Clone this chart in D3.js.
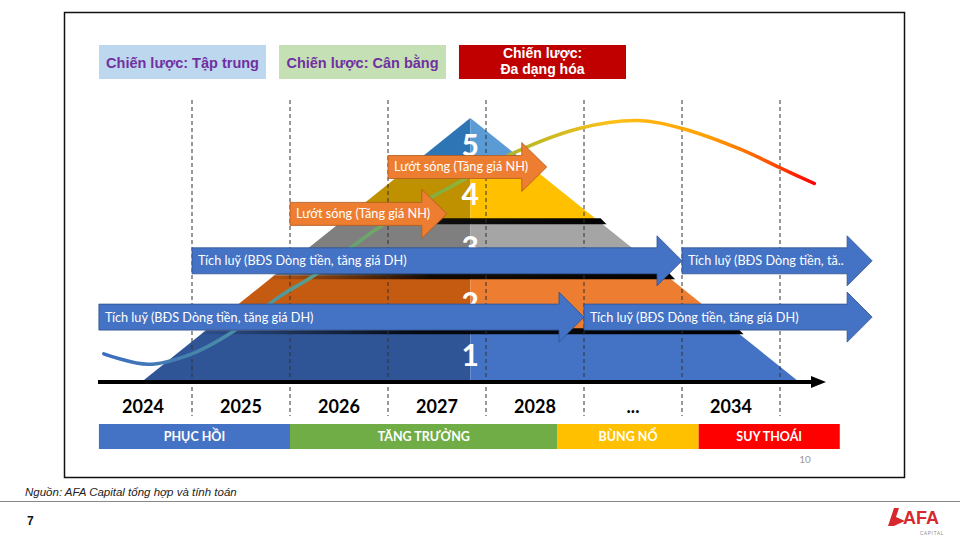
<!DOCTYPE html>
<html>
<head>
<meta charset="utf-8">
<script src="https://cdn.jsdelivr.net/npm/d3@7"></script>
<style>
body { margin: 0; background: #fff; }
svg { display: block; }
</style>
</head>
<body>
<script>
var W = 960, H = 540;

// data
var years = ["2024", "2025", "2026", "2027", "2028", "...", "2034"];
var phases = ["PHỤC HỒI", "TĂNG TRƯỞNG", "BÙNG NỔ", "SUY THOÁI"];
var phaseFrom = [0.05, 2.0, 4.73, 6.17];
var phaseTo = [2.0, 4.73, 6.17, 7.61];
var strategies = [["Chiến lược: Tập trung"], ["Chiến lược: Cân bằng"], ["Chiến lược:", "Đa dạng hóa"]];
var levels = ["1", "2", "3", "4", "5"];
var levelBounds = [0, 0.19, 0.40, 0.61, 0.84, 1];
var arrowLabels = [
  "Tích luỹ (BĐS Dòng tiền, tăng giá DH)",
  "Tích luỹ (BĐS Dòng tiền, tăng giá DH)",
  "Tích luỹ (BĐS Dòng tiền, tăng giá DH)",
  "Tích luỹ (BĐS Dòng tiền, tă..",
  "Lướt sóng (Tăng giá NH)",
  "Lướt sóng (Tăng giá NH)"
];
var arrowFrom = [0.05, 5.0, 1.0, 6.0, 2.0, 3.0];
var arrowTo = [5.0, 7.94, 6.0, 7.94, 3.6, 4.62];
var arrowLevel = [0.24, 0.24, 0.455, 0.455, 0.634, 0.813];
var arrowKind = ["blue", "blue", "blue", "blue", "orange", "orange"];
var cycleYear = [0.1, 0.55, 1.0, 1.4, 1.9, 2.25, 2.9, 3.75, 4.3, 4.95, 5.55, 6.0, 6.6, 7.0, 7.35];
var cycleLevel = [0.10, 0.06, 0.10, 0.18, 0.32, 0.40, 0.58, 0.76, 0.87, 0.96, 0.99, 0.96, 0.88, 0.81, 0.75];

// styles
var phaseColors = ["#4472C4", "#70AD47", "#FFC000", "#FF0000"];
var stratFill = ["#BDD7EE", "#C5E0B4", "#C00000"];
var stratText = ["#7030A0", "#7030A0", "#ffffff"];
var layerDark = ["#2F5597", "#C55A11", "#7F7F7F", "#BF9000", "#2E75B6"];
var layerLight = ["#4472C4", "#ED7D31", "#A5A5A5", "#FFC000", "#5B9BD5"];
var arrowFill = { blue: "#4472C4", orange: "#ED7D31" };
var arrowStroke = { blue: "#2F528F", orange: "#AE5A21" };
var apexYear = 3.84, halfBase = 3.33;

var svg = d3.select("body").append("svg").attr("width", W).attr("height", H);
var defs = svg.append("defs");

var x = d3.scaleLinear().domain([0, 8]).range([94, 878]);
var y = d3.scaleLinear().domain([0, 1]).range([380, 118]);
var yearBand = d3.scaleBand().domain(years).range([x(0), x(7)]);

// frame
svg.append("rect").attr("x", 64.5).attr("y", 12.5).attr("width", 840).attr("height", 465)
  .attr("fill", "#fff").attr("stroke", "#111").attr("stroke-width", 1.5);

// strategy boxes
var sb = d3.scaleBand().domain([0, 1, 2]).range([99, 626]).paddingInner(0.072);
var sg = svg.selectAll("g.strat").data(strategies).enter().append("g").attr("class", "strat");
sg.append("rect")
  .attr("x", function (d, i) { return sb(i); })
  .attr("y", 45).attr("width", sb.bandwidth()).attr("height", 34)
  .attr("fill", function (d, i) { return stratFill[i]; });
sg.each(function (d, i) {
  var t = d3.select(this).append("text")
    .attr("x", sb(i) + sb.bandwidth() / 2)
    .attr("text-anchor", "middle")
    .attr("font-family", "'Liberation Sans Narrow', 'Liberation Sans', Arial, sans-serif")
    .attr("font-weight", "bold")
    .attr("font-size", d.length > 1 ? 14 : 14.5)
    .attr("fill", stratText[i]);
  d.forEach(function (line, k) {
    t.append("tspan").attr("x", sb(i) + sb.bandwidth() / 2)
      .attr("y", d.length > 1 ? 58 + k * 16 : 68)
      .text(line);
  });
});

// pyramid
function hw(h) { return halfBase * (1 - h); }
var layers = svg.append("g");
levels.forEach(function (lv, i) {
  var b0 = levelBounds[i], b1 = levelBounds[i + 1];
  var left = [[x(apexYear - hw(b0)), y(b0)], [x(apexYear), y(b0)], [x(apexYear), y(b1)], [x(apexYear - hw(b1)), y(b1)]];
  var right = [[x(apexYear), y(b0)], [x(apexYear + hw(b0)), y(b0)], [x(apexYear + hw(b1)), y(b1)], [x(apexYear), y(b1)]];
  layers.append("polygon").attr("points", left.join(" ")).attr("fill", layerDark[i]);
  layers.append("polygon").attr("points", right.join(" ")).attr("fill", layerLight[i]);
});
layers.selectAll("text").data(levels).enter().append("text")
  .attr("x", x(apexYear))
  .attr("y", function (d, i) { return (y(levelBounds[i]) + y(levelBounds[i + 1])) / 2 + (i === 4 ? 6 : i === 3 ? 4 : 0); })
  .attr("dy", "0.36em")
  .attr("text-anchor", "middle")
  .attr("font-family", "Lato, sans-serif").attr("font-weight", "bold").attr("font-size", 30)
  .attr("fill", "#fff").text(function (d) { return d; });

// dark bevel bands at top of layers 1-3
var bandGrad = defs.append("linearGradient").attr("id", "bandGrad");
bandGrad.append("stop").attr("offset", "0").attr("stop-color", "#000").attr("stop-opacity", 0.05);
bandGrad.append("stop").attr("offset", "0.4").attr("stop-color", "#000").attr("stop-opacity", 0.9);
bandGrad.append("stop").attr("offset", "1").attr("stop-color", "#000").attr("stop-opacity", 1);
[1, 2, 3].forEach(function (k) {
  var b = levelBounds[k];
  var yt = y(b) - 2, yb = y(b) + 4;
  var pts = [[x(apexYear - hw(b)), yt], [x(apexYear + hw(b)) + 3, yt], [x(apexYear + hw(b)) + 9, yb], [x(apexYear - hw(b)) - 6, yb]];
  svg.append("polygon").attr("points", pts.join(" ")).attr("fill", "url(#bandGrad)");
});

// dashed year separators
svg.selectAll("line.sep").data(d3.range(1, 8)).enter().append("line")
  .attr("class", "sep")
  .attr("x1", function (d) { return x(d); }).attr("x2", function (d) { return x(d); })
  .attr("y1", 100).attr("y2", 416)
  .attr("stroke", "#333").attr("stroke-width", 1).attr("stroke-dasharray", "4,3");

// market cycle curve
var cg = defs.append("linearGradient").attr("id", "cycleGrad").attr("gradientUnits", "userSpaceOnUse")
  .attr("x1", x(cycleYear[0])).attr("x2", x(cycleYear[cycleYear.length - 1])).attr("y1", 0).attr("y2", 0);
[[0, "#3D6DBF"], [0.25, "#4F9A9C"], [0.48, "#86B13E"], [0.62, "#C8BA22"], [0.72, "#FFC01A"], [0.85, "#FFA000"], [0.93, "#FF5A00"], [1, "#FF0000"]]
  .forEach(function (s) { cg.append("stop").attr("offset", s[0]).attr("stop-color", s[1]); });
var line = d3.line()
  .x(function (d, i) { return x(cycleYear[i]); })
  .y(function (d, i) { return y(cycleLevel[i]); })
  .curve(d3.curveCatmullRom);
svg.append("path").attr("d", line(cycleYear)).attr("fill", "none")
  .attr("stroke", "url(#cycleGrad)").attr("stroke-width", 3.5).attr("stroke-linecap", "round");

// strategy arrows
var arrows = svg.append("g");
arrowLabels.forEach(function (lab, i) {
  var k = arrowKind[i];
  var x0 = x(arrowFrom[i]), x1 = x(arrowTo[i]), cy = y(arrowLevel[i]);
  var bh = k === "blue" ? 13 : 11.5, hh = k === "blue" ? 25 : 24.5, hl = 25;
  var pts = [[x0, cy - bh], [x1 - hl, cy - bh], [x1 - hl, cy - hh], [x1, cy], [x1 - hl, cy + hh], [x1 - hl, cy + bh], [x0, cy + bh]];
  arrows.append("polygon").attr("points", pts.join(" "))
    .attr("fill", arrowFill[k]).attr("stroke", arrowStroke[k]).attr("stroke-width", 0.8);
  arrows.append("text").attr("x", x0 + 6).attr("y", cy).attr("dy", "0.35em")
    .attr("font-family", "Lato, sans-serif").attr("font-size", 12.7).attr("fill", "#fff")
    .text(lab);
});

// time axis
svg.append("line").attr("x1", 98).attr("x2", 813).attr("y1", 382).attr("y2", 382)
  .attr("stroke", "#000").attr("stroke-width", 4);
svg.append("polygon").attr("points", [[811, 376], [826, 382], [811, 388]].join(" ")).attr("fill", "#000");
svg.selectAll("text.year").data(years).enter().append("text")
  .attr("class", "year")
  .attr("x", function (d) { return yearBand(d) + yearBand.bandwidth() / 2; })
  .attr("y", 413)
  .attr("text-anchor", "middle")
  .attr("font-family", "Lato, sans-serif").attr("font-weight", "bold").attr("font-size", 18)
  .attr("fill", "#000").text(function (d) { return d; });

// phases
var pg = svg.selectAll("g.phase").data(phases).enter().append("g").attr("class", "phase");
pg.append("rect")
  .attr("x", function (d, i) { return x(phaseFrom[i]); })
  .attr("width", function (d, i) { return x(phaseTo[i]) - x(phaseFrom[i]); })
  .attr("y", 424).attr("height", 25)
  .attr("fill", function (d, i) { return phaseColors[i]; });
pg.append("text")
  .attr("x", function (d, i) { return (x(phaseFrom[i]) + x(phaseTo[i])) / 2; })
  .attr("y", 437).attr("dy", "0.35em").attr("text-anchor", "middle")
  .attr("font-family", "Lato, sans-serif").attr("font-weight", "bold").attr("font-size", 12.5)
  .attr("fill", "#fff").text(function (d) { return d; });

svg.append("text").attr("x", 805).attr("y", 463).attr("text-anchor", "middle")
  .attr("font-family", "Lato, sans-serif").attr("font-size", 10).attr("fill", "#999").text("10");

// footer
svg.append("text").attr("x", 25).attr("y", 496)
  .attr("font-family", "'Liberation Sans Narrow', 'Liberation Sans', Arial, sans-serif")
  .attr("font-style", "italic").attr("font-size", 11.5).attr("fill", "#222")
  .text("Nguồn: AFA Capital tổng hợp và tính toán");
svg.append("line").attr("x1", 0).attr("x2", W).attr("y1", 501.5).attr("y2", 501.5)
  .attr("stroke", "#888").attr("stroke-width", 1);
svg.append("text").attr("x", 27).attr("y", 525)
  .attr("font-family", "'Liberation Sans Narrow', Arial, sans-serif").attr("font-weight", "bold")
  .attr("font-size", 12).attr("fill", "#111").text("7");

// logo
var logo = svg.append("g");
logo.append("polygon").attr("points", "888,526 894,508 899,508 896,517 905,521 896,525 894,526").attr("fill", "#D7282F");
logo.append("text").attr("x", 903).attr("y", 524)
  .attr("font-family", "'Liberation Sans Narrow', Arial, sans-serif").attr("font-weight", "bold")
  .attr("font-size", 18).attr("fill", "#D7282F").text("AFA");
logo.append("text").attr("x", 944).attr("y", 535).attr("text-anchor", "end")
  .attr("font-family", "Liberation Sans, Arial, sans-serif").attr("font-size", 4.5)
  .attr("letter-spacing", 0.8).attr("fill", "#888").text("CAPITAL");
</script>
</body>
</html>
